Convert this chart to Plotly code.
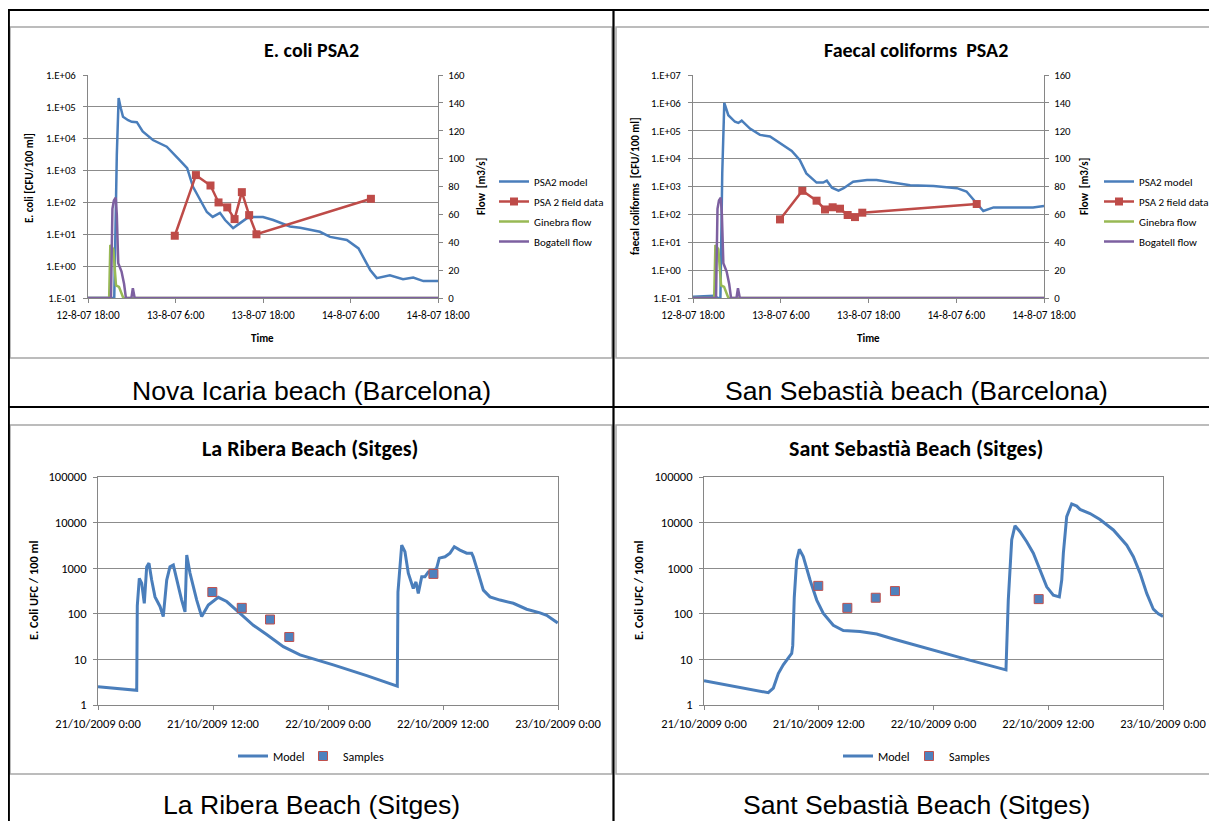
import plotly.graph_objects as go

W, H = 1217, 821
OX, OY = 8, 8   # page body margin compensation
def px(x): return (x - OX) / W
def py(y): return 1 - (y - OY) / H

CAL = "Carlito, Calibri, Lato, sans-serif"
ARIAL = "Liberation Sans, Arial, sans-serif"
BLUE = '#4A7EBB'; RED = '#BE4B48'; GREEN = '#98B954'; PURPLE = '#7D60A0'
AX = '#868686'; GRID = '#8C8C8C'

# ---------------- data ----------------
# hours since 12-8-07 18:00
TOP_TICK_H = [0, 12, 24, 36, 48]
TOP_TICK_TXT = ['12-8-07 18:00', '13-8-07 6:00', '13-8-07 18:00', '14-8-07 6:00', '14-8-07 18:00']
# hours since 21/10/2009 0:00
BOT_TICK_H = [0, 12, 24, 36, 48]
BOT_TICK_TXT = ['21/10/2009 0:00', '21/10/2009 12:00', '22/10/2009 0:00', '22/10/2009 12:00', '23/10/2009 0:00']

EC_H = [0, 3.6, 3.95, 4.2, 4.5, 4.8, 5.5, 6.0, 6.7, 7.5, 8.9, 10.8, 12.6, 13.6, 14.4, 15.4, 16.3, 17.1, 18.1, 18.8,
        19.9, 20.8, 21.8, 22.6, 24.0, 25.4, 27.7, 29.1, 31.8, 33.2, 35.5, 37.1, 38.7, 39.6, 41.4, 43.2, 44.6, 46.0, 48.0]
EC_MODEL = [0.1, 0.1, 3000, 190000, 90000, 49000, 38000, 34000, 33000, 17000, 9100, 5600, 2100, 1200, 310, 120, 50, 35, 47, 28,
            15.5, 22, 32, 35, 35, 28, 17.5, 16, 12, 8.3, 6.6, 3.6, 0.76, 0.42, 0.52, 0.39, 0.44, 0.34, 0.34]
EC_FIELD_H = [11.9, 14.8, 16.8, 17.9, 19.1, 20.1, 21.1, 22.1, 23.1, 38.8]
EC_FIELD = [9, 720, 340, 100, 70, 30, 210, 40, 10, 130]

FC_H = [0, 2.9, 3.4, 3.75, 4.0, 4.28, 4.83, 5.74, 6.2, 6.66, 7.79, 9.16, 10.53, 11.9, 13.5, 14.6, 15.5, 16.9, 17.8, 18.3,
        19.0, 19.9, 20.6, 21.9, 23.8, 25.1, 27.4, 29.7, 32.9, 36.1, 37.4, 38.8, 39.7, 41.1, 42.9, 46.5, 48.0]
FC_MODEL = [0.11, 0.12, 0.1, 0.1, 3000, 1e6, 360000, 210000, 190000, 230000, 120000, 71000, 62000, 37000, 19000, 8900, 2950, 1380, 1380, 1620,
            910, 710, 870, 1480, 1700, 1700, 1380, 1120, 1050, 870, 660, 250, 132, 178, 175, 178, 200]
FC_FIELD_H = [11.9, 14.95, 16.9, 18.05, 19.1, 20.1, 21.15, 22.15, 23.15, 38.8]
FC_FIELD = [66, 700, 310, 150, 180, 160, 95, 80, 115, 235]

GIN_H = [0, 2.9, 3.06, 3.47, 3.84, 4.25, 4.84, 48]
GIN_FLOW = [0, 0, 38, 35, 9, 8, 0, 0]
BOG_H = [0, 3.15, 3.35, 3.55, 3.8, 3.95, 4.15, 4.6, 4.95, 5.2, 5.95, 6.15, 6.4, 48]
BOG_FLOW = [0, 0, 64, 70, 72, 60, 25, 19, 10, 0, 0, 7, 0, 0]

LR_H = [0, 4.04, 4.1, 4.31, 4.56, 4.83, 5.08, 5.32, 5.6, 5.95, 6.47, 6.81, 7.17, 7.51, 7.86, 8.21, 8.73, 9.08, 9.26, 9.6,
        10.3, 10.82, 11.51, 12.55, 13.43, 14.82, 16.21, 17.6, 19.34, 21.08, 23.17, 24.55, 28.04, 31.23, 31.3, 31.69, 32.03, 32.38, 32.9, 33.18,
        33.42, 33.78, 34.12, 34.47, 34.82, 35.34, 35.61, 36.21, 36.73, 37.18, 37.77, 38.47, 38.99, 39.16, 39.68, 40.21, 40.9, 41.95, 43.34, 44.73,
        46.12, 46.82, 47.97]
LR_MODEL = [2.5, 2.1, 150, 600, 470, 170, 1070, 1290, 550, 235, 145, 87, 550, 1070, 1170, 550, 200, 110, 1950, 780,
            200, 87, 155, 230, 186, 102, 56, 35, 19, 12.6, 9.3, 7.6, 4.4, 2.6, 300, 3200, 2300, 780, 360, 500,
            280, 650, 650, 830, 830, 1000, 1660, 1780, 2140, 2950, 2500, 2140, 2140, 1780, 780, 330, 235, 200, 170, 126,
            105, 93, 63]
LR_SAMP_H = [11.93, 15.0, 17.95, 19.96, 35.0]
LR_SAMP = [300, 135, 75, 31, 750]

SS_H = [0, 4.11, 6.72, 7.25, 7.77, 8.29, 9.17, 9.28, 9.44, 9.69, 9.97, 10.38, 11.09, 11.79, 12.48, 13.52, 14.57, 16.31, 18.06, 19.8,
        21.54, 23.63, 27.47, 31.58, 31.82, 32.18, 32.52, 33.05, 33.75, 34.44, 35.14, 35.84, 36.53, 37.16, 37.41, 37.58, 37.93, 38.45, 38.98, 39.32,
        40.37, 41.41, 42.81, 44.21, 44.9, 45.6, 46.3, 46.99, 47.51, 48.0]
SS_MODEL = [3.4, 2.35, 1.86, 2.35, 4.9, 7.6, 13.5, 20, 230, 1500, 2600, 1800, 550, 200, 102, 56, 43, 41, 36, 28,
            22, 16.6, 10, 5.9, 200, 4200, 8500, 6300, 3800, 2140, 910, 390, 257, 235, 550, 2140, 13500, 25700, 23000, 19500,
            15800, 11700, 6900, 3200, 1780, 780, 280, 126, 100, 87]
SS_SAMP_H = [11.95, 14.99, 17.96, 19.97, 35.0]
SS_SAMP = [410, 135, 225, 315, 210]

LOG_TOP6 = [1e-1, 1, 10, 100, 1e3, 1e4, 1e5, 1e6]
LOG_TOP6_TXT = ['1.E-01', '1.E+00', '1.E+01', '1.E+02', '1.E+03', '1.E+04', '1.E+05', '1.E+06']
LOG_TOP7 = LOG_TOP6 + [1e7]
LOG_TOP7_TXT = LOG_TOP6_TXT + ['1.E+07']
FLOW_TICKS = [0, 20, 40, 60, 80, 100, 120, 140, 160]
LOG_BOT = [1, 10, 100, 1000, 10000, 100000]
LOG_BOT_TXT = ['1', '10', '100', '1000', '10000', '100000']

fig = go.Figure()

# ---- top-left ----
fig.add_trace(go.Scatter(x=EC_H, y=EC_MODEL, mode='lines', name='PSA2 model', line=dict(color=BLUE, width=2.5),
                         xaxis='x', yaxis='y', legend='legend', legendgroup='a1'))
fig.add_trace(go.Scatter(x=EC_FIELD_H, y=EC_FIELD, mode='lines+markers', name='PSA 2 field data',
                         line=dict(color=RED, width=2.5), marker=dict(symbol='square', size=8, color=RED),
                         xaxis='x', yaxis='y', legend='legend', legendgroup='a2'))
fig.add_trace(go.Scatter(x=GIN_H, y=GIN_FLOW, mode='lines', name='Ginebra flow', line=dict(color=GREEN, width=2.5),
                         xaxis='x', yaxis='y2', legend='legend', legendgroup='a3'))
fig.add_trace(go.Scatter(x=BOG_H, y=BOG_FLOW, mode='lines', name='Bogatell flow', line=dict(color=PURPLE, width=2.5),
                         xaxis='x', yaxis='y2', legend='legend', legendgroup='a4'))
# ---- top-right ----
fig.add_trace(go.Scatter(x=FC_H, y=FC_MODEL, mode='lines', name='PSA2 model', line=dict(color=BLUE, width=2.5),
                         xaxis='x2', yaxis='y3', legend='legend2', legendgroup='b1'))
fig.add_trace(go.Scatter(x=FC_FIELD_H, y=FC_FIELD, mode='lines+markers', name='PSA 2 field data',
                         line=dict(color=RED, width=2.5), marker=dict(symbol='square', size=8, color=RED),
                         xaxis='x2', yaxis='y3', legend='legend2', legendgroup='b2'))
fig.add_trace(go.Scatter(x=GIN_H, y=GIN_FLOW, mode='lines', name='Ginebra flow', line=dict(color=GREEN, width=2.5),
                         xaxis='x2', yaxis='y4', legend='legend2', legendgroup='b3'))
fig.add_trace(go.Scatter(x=BOG_H, y=BOG_FLOW, mode='lines', name='Bogatell flow', line=dict(color=PURPLE, width=2.5),
                         xaxis='x2', yaxis='y4', legend='legend2', legendgroup='b4'))
# ---- bottom-left ----
fig.add_trace(go.Scatter(x=LR_H, y=LR_MODEL, mode='lines', name='Model', line=dict(color=BLUE, width=3),
                         xaxis='x3', yaxis='y5', legend='legend3'))
fig.add_trace(go.Scatter(x=LR_SAMP_H, y=LR_SAMP, mode='markers', name='Samples',
                         marker=dict(symbol='square', size=9, color='#4F81BD', line=dict(color='#C0504D', width=1)),
                         xaxis='x3', yaxis='y5', legend='legend5'))
# ---- bottom-right ----
fig.add_trace(go.Scatter(x=SS_H, y=SS_MODEL, mode='lines', name='Model', line=dict(color=BLUE, width=3),
                         xaxis='x4', yaxis='y6', legend='legend4'))
fig.add_trace(go.Scatter(x=SS_SAMP_H, y=SS_SAMP, mode='markers', name='Samples',
                         marker=dict(symbol='square', size=9, color='#4F81BD', line=dict(color='#C0504D', width=1)),
                         xaxis='x4', yaxis='y6', legend='legend6'))


def xax(x0, x1, anchor, vals, txt, fs, stand):
    return dict(domain=[px(x0), px(x1)], anchor=anchor, range=[0, 48], tickmode='array', tickvals=vals, ticktext=txt,
                showgrid=False, zeroline=False, showline=True, linecolor=AX, linewidth=1, ticks='outside', ticklen=4,
                tickcolor=AX, tickfont=dict(family=CAL, size=fs, color='black'), ticklabelstandoff=stand,
                fixedrange=True, automargin=False)


def logax(y0, y1, anchor, rng, vals, txt, fs, stand, mirror=False):
    return dict(domain=[py(y1), py(y0)], anchor=anchor, type='log', range=rng, tickmode='array', tickvals=vals,
                ticktext=txt, showgrid=True, gridcolor=GRID, gridwidth=1, zeroline=False, showline=True, linecolor=AX,
                linewidth=1, mirror=mirror, ticks='outside', ticklen=4, tickcolor=AX,
                tickfont=dict(family=CAL, size=fs, color='black'), ticklabelstandoff=stand, fixedrange=True,
                automargin=False)


def flowax(overlay, anchor):
    return dict(overlaying=overlay, anchor=anchor, side='right', range=[0, 160], tickmode='array', tickvals=FLOW_TICKS,
                showgrid=False, zeroline=False, showline=True, linecolor=AX, linewidth=1, ticks='outside', ticklen=4,
                tickcolor=AX, tickfont=dict(family=CAL, size=10.8, color='black'), ticklabelstandoff=3,
                fixedrange=True, automargin=False)


def vleg(x, y):
    return dict(x=px(x), y=py(y), xanchor='left', yanchor='top', bgcolor='rgba(0,0,0,0)', tracegroupgap=1,
                borderwidth=0, font=dict(family=CAL, size=11, color='black'))


def hleg(x, y):
    return dict(orientation='h', x=px(x), y=py(y), xanchor='left', yanchor='middle', bgcolor='rgba(0,0,0,0)',
                borderwidth=0, font=dict(family=CAL, size=12, color='black'))


fig.update_layout(
    width=W, height=H, autosize=False, margin=dict(l=0, r=0, t=0, b=0, pad=0, autoexpand=False),
    paper_bgcolor='white', plot_bgcolor='white',
    xaxis=xax(88, 438, 'y', TOP_TICK_H, TOP_TICK_TXT, 11.2, 3),
    yaxis=logax(75, 298, 'x', [-1, 6], LOG_TOP6, LOG_TOP6_TXT, 10.8, 5),
    yaxis2=flowax('y', 'x'),
    xaxis2=xax(693, 1044, 'y3', TOP_TICK_H, TOP_TICK_TXT, 11.2, 3),
    yaxis3=logax(75, 298, 'x2', [-1, 7], LOG_TOP7, LOG_TOP7_TXT, 10.8, 5),
    yaxis4=flowax('y3', 'x2'),
    xaxis3=dict(xax(98, 558, 'y5', BOT_TICK_H, BOT_TICK_TXT, 12.5, 3), mirror=True),
    yaxis5=logax(477, 705, 'x3', [0, 5], LOG_BOT, LOG_BOT_TXT, 12.5, 4, mirror=True),
    xaxis4=dict(xax(704, 1163, 'y6', BOT_TICK_H, BOT_TICK_TXT, 12.5, 3), mirror=True),
    yaxis6=logax(477, 705, 'x4', [0, 5], LOG_BOT, LOG_BOT_TXT, 12.5, 4, mirror=True),
    legend=vleg(494, 167),
    legend2=vleg(1099, 167),
    legend3=hleg(233, 756),
    legend5=hleg(303, 756),
    legend4=hleg(838, 756),
    legend6=hleg(909, 756),
    showlegend=True,
)

ann = []
def text(x, y, s, size, fam=CAL, bold=False, angle=0):
    ann.append(dict(x=px(x), y=py(y), xref='paper', yref='paper', text=('<b>%s</b>' % s) if bold else s,
                    showarrow=False, xanchor='center', yanchor='middle', textangle=angle,
                    font=dict(family=fam, size=size, color='black')))

# chart titles
text(311, 50, 'E. coli PSA2', 20, bold=True)
text(916, 50, 'Faecal coliforms  PSA2', 20, bold=True)
text(310, 448, 'La Ribera Beach (Sitges)', 22, bold=True)
text(916, 448, 'Sant Sebastià Beach (Sitges)', 22, bold=True)
# axis titles
text(29, 178, 'E. coli [CFU/100 ml]', 11, bold=True, angle=-90)
text(482, 187, 'Flow  [m3/s]', 11, bold=True, angle=-90)
text(262, 338, 'Time', 11, bold=True)
text(635, 186, 'faecal coliforms  [CFU/100 ml]', 11, bold=True, angle=-90)
text(1085, 187, 'Flow  [m3/s]', 11, bold=True, angle=-90)
text(868, 338, 'Time', 11, bold=True)
text(33, 591, 'E. Coli UFC / 100 ml', 12.3, bold=True, angle=-90)
text(638, 591, 'E. Coli UFC / 100 ml', 12.3, bold=True, angle=-90)
# captions
text(311, 391, 'Nova Icaria beach (Barcelona)', 26.6, fam=ARIAL)
text(916, 391, 'San Sebastià beach (Barcelona)', 26.6, fam=ARIAL)
text(311, 805, 'La Ribera Beach (Sitges)', 26.6, fam=ARIAL)
text(916, 805, 'Sant Sebastià Beach (Sitges)', 26.6, fam=ARIAL)
fig.update_layout(annotations=ann)

shapes = []
def rect(x0, y0, x1, y1, color='#A6A6A6', w=1.5):
    shapes.append(dict(type='rect', xref='paper', yref='paper', x0=px(x0), x1=px(x1), y0=py(y1), y1=py(y0),
                       line=dict(color=color, width=w), fillcolor='rgba(0,0,0,0)', layer='above'))
def line(x0, y0, x1, y1, color='black', w=2.2):
    shapes.append(dict(type='line', xref='paper', yref='paper', x0=px(x0), x1=px(x1), y0=py(y0), y1=py(y1),
                       line=dict(color=color, width=w), layer='above'))

rect(10, 27, 612, 358)
rect(616, 27, 1230, 358)
rect(10, 425, 612, 774)
rect(616, 425, 1230, 774)
line(8.8, 10, 1230, 10)
line(8.8, 9, 8.8, 830)
line(613.5, 9, 613.5, 830)
line(8, 407, 1230, 407)
fig.update_layout(shapes=shapes)

fig.write_html('out.html')
